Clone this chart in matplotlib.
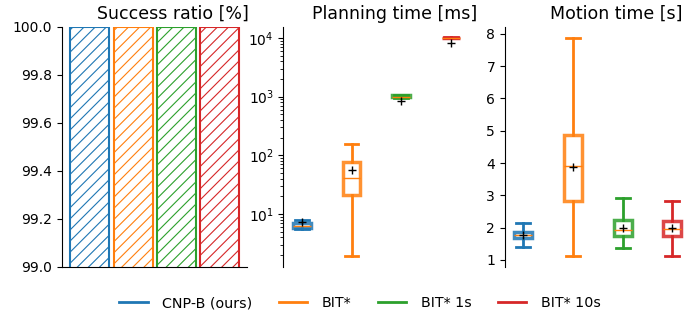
import matplotlib
matplotlib.use('Agg')
import matplotlib.pyplot as plt
import numpy as np

methods = ['CNP-B (ours)', 'BIT*', 'BIT* 1s', 'BIT* 10s']
colors = ['tab:blue', 'tab:orange', 'tab:green', 'tab:red']

success = [100.0, 100.0, 100.0, 100.0]

# planning time [ms]: whislo, q1, med, q3, whishi, mean
plan_lo = [5.5, 1.94, 950, 9850]
plan_q1 = [5.8, 21, 970, 9900]
plan_med = [6.3, 41, 1000, 10000]
plan_q3 = [7.0, 77, 1050, 10150]
plan_hi = [8.0, 158, 1080, 10200]
plan_mean = [7.2, 56, 830, 8030]

# motion time [s]
mot_lo = [1.41, 1.11, 1.35, 1.12]
mot_q1 = [1.66, 2.82, 1.74, 1.75]
mot_med = [1.76, 3.92, 1.92, 1.95]
mot_q3 = [1.85, 4.86, 2.22, 2.20]
mot_hi = [2.15, 7.89, 2.92, 2.82]
mot_mean = [1.76, 3.87, 2.00, 2.00]


def make_stats(lo, q1, med, q3, hi, mean):
    return [dict(whislo=a, q1=b, med=c, q3=d, whishi=e, mean=f, fliers=[])
            for a, b, c, d, e, f in zip(lo, q1, med, q3, hi, mean)]


def draw_box(ax, stats):
    bp = ax.bxp(stats, positions=range(1, 5), widths=0.36, showmeans=True,
                showfliers=False, patch_artist=True, capwidths=0.28,
                medianprops=dict(color='tab:orange', linewidth=1),
                meanprops=dict(marker='+', markeredgecolor='black', markersize=6,
                               markeredgewidth=1))
    for i, c in enumerate(colors):
        bp['boxes'][i].set_facecolor('white')
        bp['boxes'][i].set_edgecolor(c)
        bp['boxes'][i].set_linewidth(2.5)
        bp['boxes'][i].set_alpha(0.85)
        for w in bp['whiskers'][2 * i:2 * i + 2] + bp['caps'][2 * i:2 * i + 2]:
            w.set_color(c)
            w.set_linewidth(2)
    ax.set_xticks([])
    ax.set_xlim(0.63, 4.36)
    for s in ['top', 'right', 'bottom']:
        ax.spines[s].set_visible(False)


plt.rcParams['font.size'] = 10
plt.rcParams['hatch.linewidth'] = 0.8
fig, axes = plt.subplots(1, 3, figsize=(7, 3.2), dpi=100)
fig.subplots_adjust(left=0.0886, right=0.986, bottom=0.166, top=0.916, wspace=0.195)

ax = axes[0]
for i in range(4):
    ax.bar(i, success[i], width=0.9, facecolor='none', edgecolor=colors[i],
           hatch='///', linewidth=1.5)
ax.set_ylim(99.0, 100.0)
ax.set_yticks(np.arange(99.0, 100.01, 0.2))
ax.set_xticks([])
ax.set_xlim(-0.645, 3.645)
ax.spines['top'].set_visible(False)
ax.spines['right'].set_visible(False)
ax.set_title('Success ratio [%]', fontsize=12.5, x=0.6)

ax = axes[1]
draw_box(ax, make_stats(plan_lo, plan_q1, plan_med, plan_q3, plan_hi, plan_mean))
ax.set_yscale('log')
ax.set_ylim(1.25, 15400)
ax.set_title('Planning time [ms]', fontsize=12.5, x=0.6)

ax = axes[2]
draw_box(ax, make_stats(mot_lo, mot_q1, mot_med, mot_q3, mot_hi, mot_mean))
ax.set_ylim(0.78, 8.22)
ax.set_yticks(range(1, 9))
ax.set_title('Motion time [s]', fontsize=12.5, x=0.6)

handles = [plt.Line2D([], [], color=c, linewidth=2) for c in colors]
fig.legend(handles, methods, loc='lower center', ncol=4, frameon=False,
           bbox_to_anchor=(0.514, -0.01), columnspacing=1.85, handletextpad=1.0,
           fontsize=10.3)

fig.savefig('out.png', dpi=100)
